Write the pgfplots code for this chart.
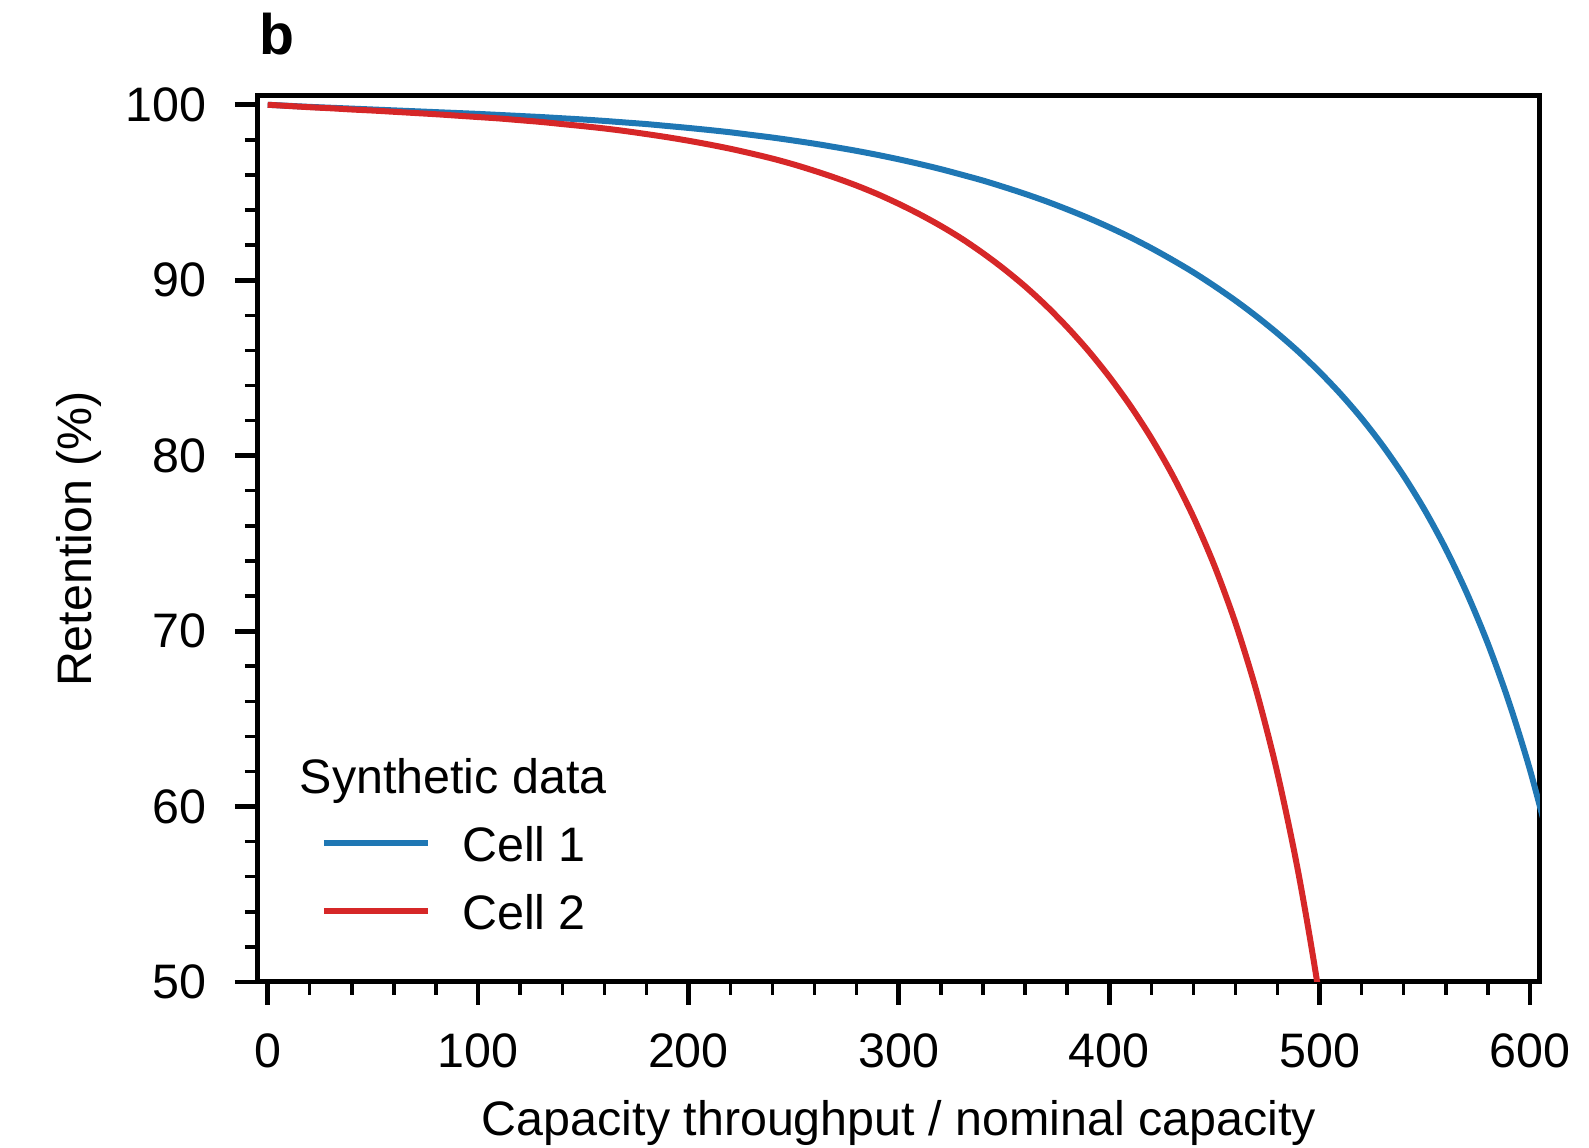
\documentclass[border=0pt]{standalone}
\usepackage{pgfplots}
\pgfplotsset{compat=1.18}
\usepackage{fontspec}
\setmainfont{Liberation Sans}
\definecolor{cblue}{HTML}{1F77B4}
\definecolor{cred}{HTML}{D62728}
\newcommand{\lblfont}{\fontsize{12.1}{14}\selectfont}
\begin{document}
\begin{tikzpicture}
\begin{axis}[
  scale only axis,
  clip mode=individual,
  width=320.5pt, height=221.5pt,
  xmin=-4.6, xmax=604.75, ymin=50, ymax=100.5,
  xtick={0,100,...,600}, ytick={50,60,...,100},
  minor x tick num=4, minor y tick num=4,
  tick pos=left, tick align=outside,
  major tick length=5.75pt, minor tick length=3.25pt,
  every major tick/.style={line width=1.2pt, black},
  every minor tick/.style={line width=0.85pt, black},
  axis line style={line width=1.25pt},
  /pgf/number format/assume math mode=true,
  tick label style={font=\lblfont},
  xticklabel style={inner sep=0pt, anchor=north, yshift=-6.9pt},
  yticklabel style={inner sep=0pt, anchor=east, xshift=-6.9pt},
  xlabel={Capacity throughput / nominal capacity},
  ylabel={Retention (\%)},
  label style={font=\lblfont},
  xlabel style={at={(axis description cs:0.5,-0.1738)}, anchor=base},
  ylabel style={at={(axis description cs:-0.1299,0.5)}, anchor=base},
  legend style={draw=none, fill=none, font=\lblfont, inner sep=0pt,
    at={(rel axis cs:0.0485,0.2543)}, anchor=north west,
    nodes={inner sep=0pt, text height=9pt, text depth=0pt},
    row sep=8pt, column sep=7.8pt},
  legend cell align=left,
  legend image code/.code={\draw[#1] (0pt,0pt) -- (26pt,0pt);},
]
\addlegendimage{empty legend}
\addlegendentry{\hspace*{-40.6pt}Synthetic data}
\addplot[cblue, line width=1.5pt, smooth, line join=round] coordinates {
(0,100) (10,99.94) (20,99.88) (30,99.83) (40,99.78) (50,99.73)
(60,99.68) (70,99.63) (80,99.58) (90,99.53) (100,99.48) (110,99.42)
(120,99.36) (130,99.30) (140,99.23) (150,99.16) (160,99.08) (170,98.99)
(180,98.90) (190,98.79) (200,98.68) (210,98.56) (220,98.43) (230,98.28)
(240,98.13) (250,97.96) (260,97.78) (270,97.58) (280,97.37) (290,97.14)
(300,96.89) (310,96.62) (320,96.33) (330,96.01) (340,95.68) (350,95.31)
(360,94.92) (370,94.50) (380,94.04) (390,93.55) (400,93.02) (410,92.45)
(420,91.83) (430,91.16) (440,90.45) (450,89.67) (460,88.84) (470,87.94)
(480,86.97) (490,85.92) (500,84.77) (510,83.51) (520,82.12) (530,80.57)
(540,78.84) (550,76.89) (560,74.68) (570,72.16) (580,69.28) (590,65.95)
(600,62.09) (610,57.59)
};
\addlegendentry{Cell 1}
\addplot[cred, line width=1.5pt, smooth, line join=round] coordinates {
(0,100) (10,99.93) (20,99.86) (30,99.80) (40,99.73) (50,99.67)
(60,99.60) (70,99.53) (80,99.46) (90,99.38) (100,99.30) (110,99.22)
(120,99.12) (130,99.02) (140,98.90) (150,98.78) (160,98.65) (170,98.50)
(180,98.33) (190,98.15) (200,97.95) (210,97.73) (220,97.49) (230,97.22)
(240,96.93) (250,96.60) (260,96.23) (270,95.83) (280,95.39) (290,94.90)
(300,94.35) (310,93.75) (320,93.09) (330,92.36) (340,91.54) (350,90.64)
(360,89.65) (370,88.55) (380,87.33) (390,85.99) (400,84.50) (410,82.85)
(420,81.00) (430,78.91) (440,76.51) (450,73.73) (460,70.46) (470,66.57)
(480,61.88) (490,56.16) (500,49.09) (510,40.26)
};
\addlegendentry{Cell 2}
\node[anchor=base west, inner sep=0pt, font=\bfseries\fontsize{14.3}{16}\selectfont] at (rel axis cs:0.0005,1.0463) {b};
\end{axis}
\pgfresetboundingbox
\useasboundingbox (-64.5pt,-41.5pt) rectangle (332.75pt,245.5pt);
\end{tikzpicture}
\end{document}
